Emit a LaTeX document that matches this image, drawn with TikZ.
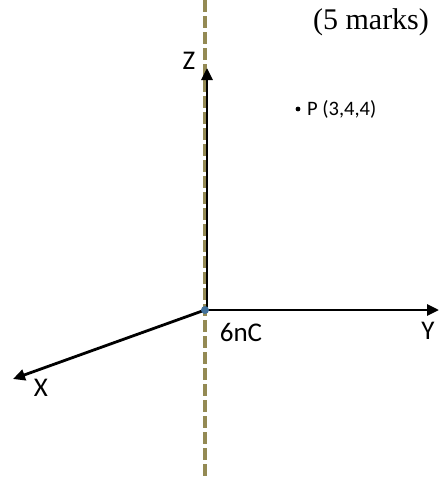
\documentclass[tikz,border=0pt]{standalone}
\usepackage{fontspec}
\setmainfont{Carlito}
\newfontfamily\timesfont{Liberation Serif}
\usetikzlibrary{arrows.meta}
\definecolor{olivedash}{HTML}{948A54}
\definecolor{dotblue}{HTML}{41719C}
\tikzset{
  axis/.style={line width=2.8pt,-{Triangle[length=12pt,width=11pt]}},
  lbl/.style={inner sep=0pt,font=\fontsize{27}{31}\selectfont},
  plbl/.style={inner sep=0pt,font=\fontsize{20.5}{24}\selectfont},
}
\begin{document}
\begin{tikzpicture}[x=1pt,y=-1pt]
\useasboundingbox (0,0) rectangle (439,477);
% dashed line
\coordinate (dtop) at (205,0);
\coordinate (dbot) at (205,477);
\draw[olivedash,line width=3.2pt,dash pattern=on 11.5pt off 4.5pt] (dtop) -- (dbot);
% origin and axes ends
\coordinate (O) at (205,310);
\coordinate (Oz) at (207,310);
\coordinate (zend) at (207,68);
\coordinate (yend) at (439,310);
\coordinate (xend) at (13,379);
\draw[axis] (Oz) -- (zend);
\draw[axis] (O) -- (yend);
\draw[axis] (O) -- (xend);
\fill[dotblue] (O) circle (4pt);
% labels
\node[lbl] (zl) at (189,61) {Z};
\node[lbl] (yl) at (428,331) {Y};
\node[lbl] (xl) at (41,388) {X};
\node[lbl] (q) at (241,332) {6nC};
\fill (298,109) circle (2.4pt);
\node[plbl,anchor=west] (p) at (307,109) {P (3,4,4)};
\node[inner sep=0pt,font=\timesfont\fontsize{30}{34}\selectfont] (marks) at (371,22) {(5 marks)};
\end{tikzpicture}
\end{document}
